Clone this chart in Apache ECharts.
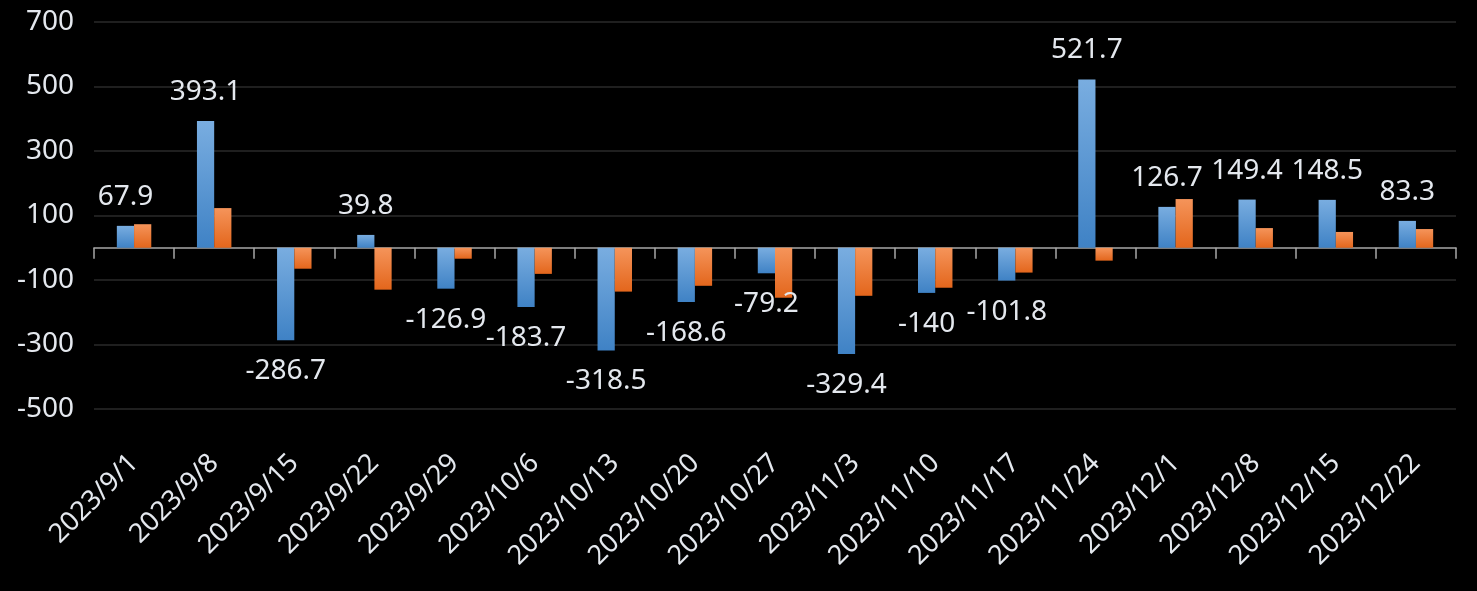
<!DOCTYPE html>
<html>
<head>
<meta charset="utf-8">
<script src="https://cdn.jsdelivr.net/npm/echarts@6/dist/echarts.min.js"></script>
<style>
html,body{margin:0;padding:0;background:#000;}
#c{width:1477px;height:591px;}
</style>
</head>
<body>
<div id="c"></div>
<script>
const categories = ['2023/9/1','2023/9/8','2023/9/15','2023/9/22','2023/9/29','2023/10/6','2023/10/13','2023/10/20','2023/10/27','2023/11/3','2023/11/10','2023/11/17','2023/11/24','2023/12/1','2023/12/8','2023/12/15','2023/12/22'];
const blueValues = [67.9, 393.1, -286.7, 39.8, -126.9, -183.7, -318.5, -168.6, -79.2, -329.4, -140, -101.8, 521.7, 126.7, 149.4, 148.5, 83.3];
const orangeValues = [73, 123, -65, -130, -34, -81, -136, -118, -155, -149, -124, -77, -40, 151, 61, 49, 58];
const yMin = -500, yMax = 700, yStep = 200;

const FONT = 'Noto Sans';
const textColor = '#e4e8ee';

const blueData = blueValues.map(v => ({
  value: v,
  label: { position: v < 0 ? 'bottom' : 'top', distance: v < 0 ? 17 : 15 }
}));

const chart = echarts.init(document.getElementById('c'), null, {renderer: 'canvas'});
chart.setOption({
  backgroundColor: '#000000',
  animation: false,
  grid: { left: 94, right: 21, top: 22, bottom: 182, containLabel: false },
  xAxis: [
    {
      type: 'category',
      data: categories,
      position: 'bottom',
      axisLine: { show: false, onZero: false },
      axisTick: { show: false },
      axisLabel: {
        interval: 0, rotate: 45, margin: 50,
        color: textColor, fontSize: 27, fontFamily: FONT
      },
      splitLine: { show: false }
    },
    {
      type: 'category',
      data: categories,
      position: 'bottom',
      axisLine: { show: true, onZero: true, lineStyle: { color: '#a6a6a6', width: 1.5 } },
      axisTick: { show: true, length: 11, lineStyle: { color: '#a6a6a6', width: 1.5 } },
      axisLabel: { show: false },
      splitLine: { show: false }
    }
  ],
  yAxis: {
    type: 'value',
    min: yMin, max: yMax, interval: yStep,
    axisLine: { show: false },
    axisTick: { show: false },
    axisLabel: { margin: 20, color: textColor, fontSize: 28, fontFamily: FONT },
    splitLine: { show: true, lineStyle: { color: '#2a2a2a', width: 1.5 } }
  },
  series: [
    {
      type: 'bar',
      name: 'A',
      xAxisIndex: 0,
      data: blueData,
      barGap: '0%',
      barCategoryGap: '57%',
      itemStyle: {
        color: new echarts.graphic.LinearGradient(0, 0, 0, 1, [
          { offset: 0, color: '#79ade0' },
          { offset: 1, color: '#3f82c5' }
        ])
      },
      label: {
        show: true,
        color: textColor, fontSize: 28, fontFamily: FONT,
        formatter: p => String(p.value)
      }
    },
    {
      type: 'bar',
      name: 'B',
      xAxisIndex: 0,
      data: orangeValues,
      barGap: '0%',
      barCategoryGap: '57%',
      itemStyle: {
        color: new echarts.graphic.LinearGradient(0, 0, 0, 1, [
          { offset: 0, color: '#f5945a' },
          { offset: 1, color: '#e3661c' }
        ])
      }
    }
  ]
});
</script>
</body>
</html>
